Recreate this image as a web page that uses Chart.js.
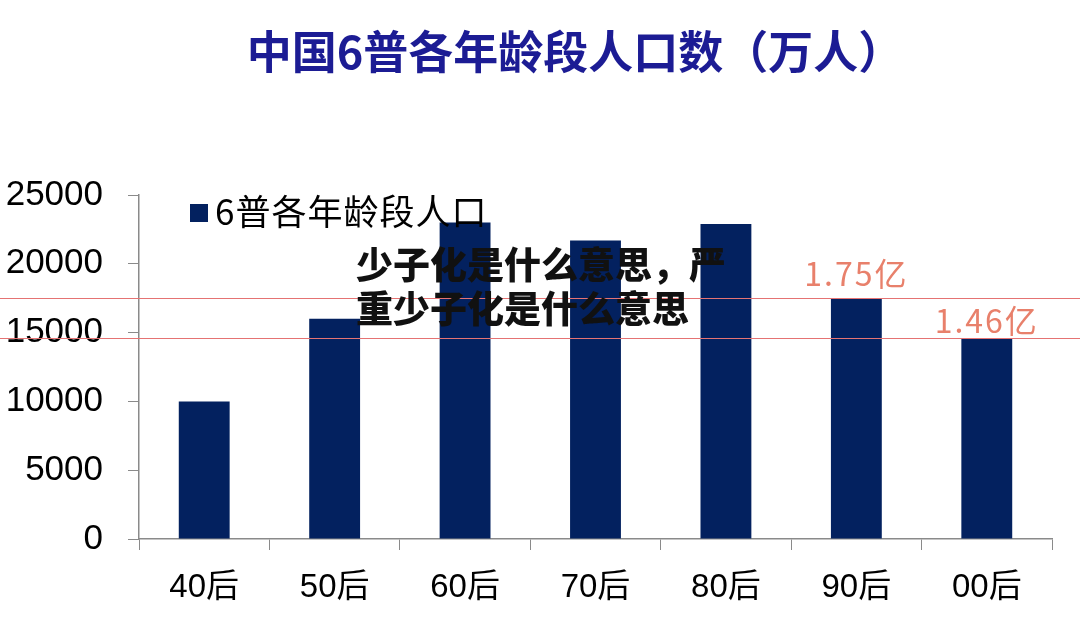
<!DOCTYPE html>
<html>
<head>
<meta charset="utf-8">
<script src="https://cdn.jsdelivr.net/npm/chart.js@4/dist/chart.umd.min.js"></script>
<style>
  html, body { margin: 0; padding: 0; background: #fff; }
  #wrap { width: 1080px; height: 626px; }
</style>
</head>
<body>
<div id="wrap"><canvas id="chart" width="1080" height="626"></canvas></div>
<script>
// data (万人)
const categories = ['40后', '50后', '60后', '70后', '80后', '90后', '00后'];
const population = [10000, 16000, 23000, 21700, 22900, 17500, 14600];
const markerValues = [17500, 14600];
const markerLabels = ['1.75亿', '1.46亿'];
const markerCategory = ['90后', '00后'];

const titleText = '中国6普各年龄段人口数（万人）';
const legendText = '6普各年龄段人口';
const overlayLines = ['少子化是什么意思，严', '重少子化是什么意思'];

const BAR = '#03215f';
const AXIS = '#8a8a8a';
const RED = '#e57373';
const RED_TEXT = '#e8806b';
const CJK = '"Noto Sans CJK SC", "Noto Sans", sans-serif';

// title, legend, reference lines and overlay caption
const decorations = {
    id: 'decorations',
    afterDatasetsDraw(chart) {
        const ctx = chart.ctx;
        const x = chart.scales.x;
        const y = chart.scales.y;
        ctx.save();

        // title
        ctx.fillStyle = '#1c1c94';
        ctx.font = 'bold 45px ' + CJK;
        ctx.textAlign = 'center';
        ctx.textBaseline = 'middle';
        ctx.fillText(titleText, 575, 52);

        // legend inside plot
        ctx.fillStyle = BAR;
        ctx.fillRect(190, 204, 18, 18);
        ctx.fillStyle = '#000';
        ctx.font = '35px ' + CJK;
        ctx.letterSpacing = '1px';
        ctx.textAlign = 'left';
        ctx.fillText(legendText, 215, 212);

        // red reference lines across the whole picture
        markerValues.forEach((v, i) => {
            const py = Math.round(y.getPixelForValue(v)) + 0.5;
            ctx.strokeStyle = RED;
            ctx.lineWidth = 1;
            ctx.beginPath();
            ctx.moveTo(0, py);
            ctx.lineTo(chart.width, py);
            ctx.stroke();

            const cx = x.getPixelForValue(categories.indexOf(markerCategory[i]));
            ctx.fillStyle = RED_TEXT;
            ctx.font = '32px ' + CJK;
            ctx.letterSpacing = '2px';
            ctx.textAlign = 'center';
            ctx.fillText(markerLabels[i], cx, py - (i === 0 ? 25 : 18));
        });

        // overlay caption
        ctx.fillStyle = '#111';
        ctx.font = '900 37px ' + CJK;
        ctx.letterSpacing = '0px';
        ctx.textAlign = 'left';
        overlayLines.forEach((line, i) => {
            ctx.fillText(line, 356, 265 + i * 44);
        });

        ctx.restore();
    }
};

new Chart(document.getElementById('chart').getContext('2d'), {
    type: 'bar',
    data: {
        labels: categories,
        datasets: [{
            label: legendText,
            data: population,
            backgroundColor: BAR,
            borderWidth: 0,
            barPercentage: 0.39,
            categoryPercentage: 1
        }]
    },
    options: {
        responsive: false,
        animation: false,
        layout: { padding: { top: 195, right: 28, left: 0, bottom: 0 } },
        plugins: {
            legend: { display: false },
            tooltip: { enabled: false }
        },
        scales: {
            x: {
                afterFit: (s) => { s.height = 87; },
                grid: {
                    offset: true,
                    drawOnChartArea: false,
                    color: AXIS,
                    tickLength: 11
                },
                border: { color: AXIS, width: 1.5 },
                ticks: {
                    color: '#000',
                    padding: 18,
                    font: { family: 'Liberation Sans, ' + CJK, size: 33 }
                }
            },
            y: {
                min: 0,
                max: 25000,
                afterFit: (s) => { s.width = 139; },
                grid: {
                    drawOnChartArea: false,
                    color: AXIS,
                    tickLength: 11
                },
                border: { color: AXIS, width: 1.5 },
                ticks: {
                    stepSize: 5000,
                    color: '#000',
                    padding: 25,
                    callback: (v) => String(v),
                    font: { family: 'Liberation Sans', size: 35 }
                }
            }
        }
    },
    plugins: [decorations]
});
</script>
</body>
</html>
